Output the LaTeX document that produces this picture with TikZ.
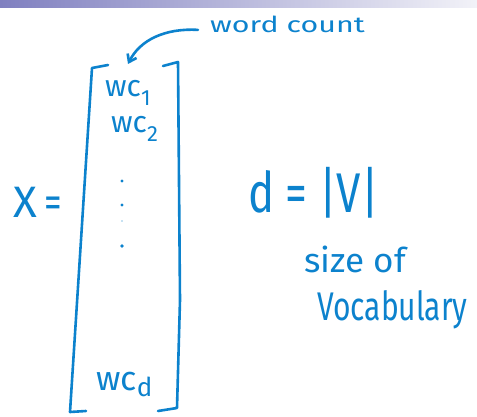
\documentclass[tikz,border=0pt]{standalone}
\usepackage{fontspec}
\setmainfont{Fira Sans}
\usetikzlibrary{arrows.meta}
\definecolor{ink}{RGB}{12,130,205}
\definecolor{barL}{RGB}{128,128,192}
\definecolor{barR}{RGB}{242,242,248}
\tikzset{
  hand/.style={text=ink, inner sep=0pt, anchor=base west},
  pen/.style={draw=ink, line width=2.6pt, line cap=round, line join=round},
}
\newcommand{\fs}[1]{\fontsize{#1}{#1}\selectfont}
\begin{document}
\begin{tikzpicture}[x=1pt,y=-1pt]
\useasboundingbox (0,0) rectangle (477,417);
\shade[left color=barL, right color=barR] (0,0) rectangle (477,8);
% texts
\node[hand] (wcount) at (210,33) {\scalebox{1.38}[1]{\fs{22}word count}};
\node[hand] (wc1) at (105,97) {\fs{30}wc\raisebox{-0.3em}{\fs{22}1}};
\node[hand] (wc2) at (111,133) {\fs{30}wc\raisebox{-0.3em}{\fs{22}2}};
\node[hand] (wcd) at (96,390) {\fs{34}wc\raisebox{-0.2em}{\fs{26}d}};
\node[hand] (X) at (13,218) {\fs{44}X\,\scalebox{0.8}[1]{=}};
\node[hand] (deq) at (248,212) {\scalebox{0.78}[1]{\fs{56}d = |V|}};
\node[hand] (size) at (304,272) {\scalebox{1.03}[1]{\fs{34}size of}};
\node[hand] (vocab) at (317,320) {\scalebox{0.75}[1]{\fs{40}Vocabulary}};
% dots
\foreach \y/\r in {181/1.6,205/1.6,221/0.7,246/1.8}
  \fill[ink] (122,\y) circle (\r);
% brackets
\draw[pen] (108,65) -- (92,68) -- (70,412) -- (86,411);
\draw[pen] (163,66) -- (178,62) -- (180,300) -- (177,408) -- (158,411);
% arrow
\coordinate (tip) at (128,64);
\draw[draw=ink, line width=2.6pt, line cap=round, -{Straight Barb[length=7pt,width=10pt]}]
  ([xshift=-12pt,yshift=-5pt]wcount.west) .. controls (165,28) and (140,40) .. (tip);
\end{tikzpicture}
\end{document}
